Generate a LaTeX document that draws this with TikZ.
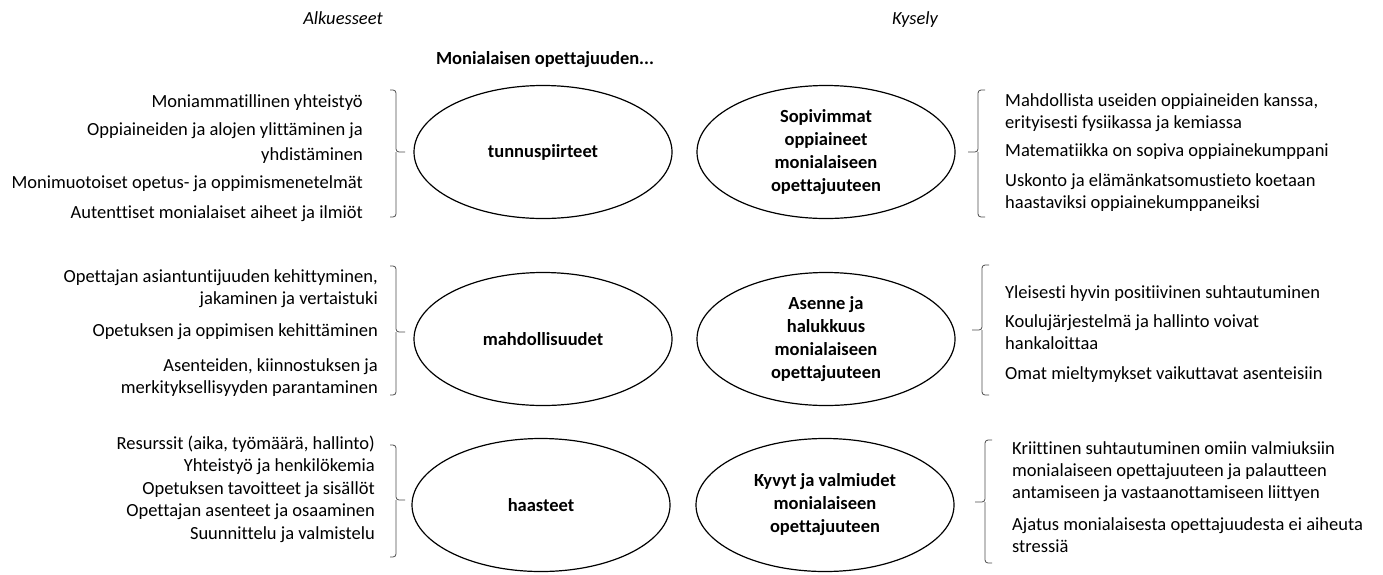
\documentclass[tikz,border=0pt]{standalone}
\usepackage{fontspec}
\setmainfont{Carlito}[Ligatures=NoCommon]
\usetikzlibrary{shapes.geometric}

\tikzset{
	oval/.style={draw, ellipse, line width=1.2pt, minimum width=258pt, minimum height=133pt, inner sep=0pt, align=center, font=\fontsize{18.5}{23}\selectfont\bfseries},
	leftlist/.style={anchor=east, align=right, inner sep=0pt},
	rightlist/.style={anchor=west, align=left, inner sep=0pt},
	sulku/.style={draw=black!70, line width=0.8pt, rounded corners=3pt},
}

\begin{document}
\begin{tikzpicture}[x=1pt,y=-1pt]
	\useasboundingbox (0,0) rectangle (1383,574);

	\node (alku) at (343,24) [anchor=base, font=\fontsize{18.5}{22}\selectfont\itshape] {Alkuesseet};
	\node (kysely) at (915,24) [anchor=base, font=\fontsize{18.5}{22}\selectfont\itshape] {Kysely};
	\node (otsikko) at (545,60) [font=\fontsize{18.5}{22}\selectfont\bfseries] {Monialaisen opettajuuden...};

	\node (tunnus) at (543,152) [oval] {tunnuspiirteet};
	\node (mahd) at (543,339) [oval] {mahdollisuudet};
	\node (haast) at (541,505) [oval] {haasteet};

	\node (sopiv) at (826,152) [oval] {Sopivimmat\\oppiaineet\\monialaiseen\\opettajuuteen};
	\node (asenne) at (826,339) [oval] {Asenne ja\\halukkuus\\monialaiseen\\opettajuuteen};
	\node (kyvyt) at (825,505) [oval] {Kyvyt ja valmiudet\\monialaiseen\\opettajuuteen};

	%alkuesseet
	\node (tunnuslist) at (363,158) [leftlist, font=\fontsize{18.5}{25}\selectfont] {Moniammatillinen yhteistyö\\[3pt]
		Oppiaineiden ja alojen ylittäminen ja\\ yhdistäminen\\[3pt]
		Monimuotoiset opetus- ja oppimismenetelmät\\[5pt]
		Autenttiset monialaiset aiheet ja ilmiöt};
	\node (mahdlist) at (378,333) [leftlist, font=\fontsize{18.5}{22}\selectfont] {Opettajan asiantuntijuuden kehittyminen,\\ jakaminen ja vertaistuki\\[10pt]
		Opetuksen ja oppimisen kehittäminen\\[13pt]
		Asenteiden, kiinnostuksen ja\\ merkityksellisyyden parantaminen};
	\node (haastlist) at (375,489) [leftlist, font=\fontsize{18.5}{22.5}\selectfont] {Resurssit (aika, työmäärä, hallinto)\\
		Yhteistyö ja henkilökemia\\
		Opetuksen tavoitteet ja sisällöt\\
		Opettajan asenteet ja osaaminen\\
		Suunnittelu ja valmistelu};

	%kysely
	\node (sopivlist) at (1005,153) [rightlist, font=\fontsize{18.5}{22}\selectfont] {Mahdollista useiden oppiaineiden kanssa,\\ erityisesti fysiikassa ja kemiassa\\[6pt]
		Matematiikka on sopiva oppiainekumppani\\[8pt]
		Uskonto ja elämänkatsomustieto koetaan\\ haastaviksi oppiainekumppaneiksi};
	\node (asennelist) at (1005,334) [rightlist, font=\fontsize{18.5}{22}\selectfont] {Yleisesti hyvin positiivinen suhtautuminen\\[7pt]
		Koulujärjestelmä ja hallinto voivat\\ hankaloittaa\\[8pt]
		Omat mieltymykset vaikuttavat asenteisiin};
	\node (kyvytlist) at (1012,497) [rightlist, font=\fontsize{18.5}{22}\selectfont] {Kriittinen suhtautuminen omiin valmiuksiin\\ monialaiseen opettajuuteen ja palautteen\\ antamiseen ja vastaanottamiseen liittyen\\[10pt]
		Ajatus monialaisesta opettajuudesta ei aiheuta\\ stressiä};

	%sulut
	\draw[sulku] (390,90) -- (396,90) -- (396,152) -- (405,152) (396,152) -- (396,217) -- (390,217);
	\draw[sulku] (390,266) -- (396,266) -- (396,332) -- (405,332) (396,332) -- (396,395) -- (390,395);
	\draw[sulku] (390,445) -- (396,445) -- (396,500) -- (405,500) (396,500) -- (396,557) -- (390,557);

	\draw[sulku] (985,90) -- (978,90) -- (978,152) -- (968,152) (978,152) -- (978,217) -- (985,217);
	\draw[sulku] (989,265) -- (982,265) -- (982,330) -- (972,330) (982,330) -- (982,395) -- (989,395);
	\draw[sulku] (992,440) -- (985,440) -- (985,502) -- (975,502) (985,502) -- (985,563) -- (992,563);
\end{tikzpicture}
\end{document}
